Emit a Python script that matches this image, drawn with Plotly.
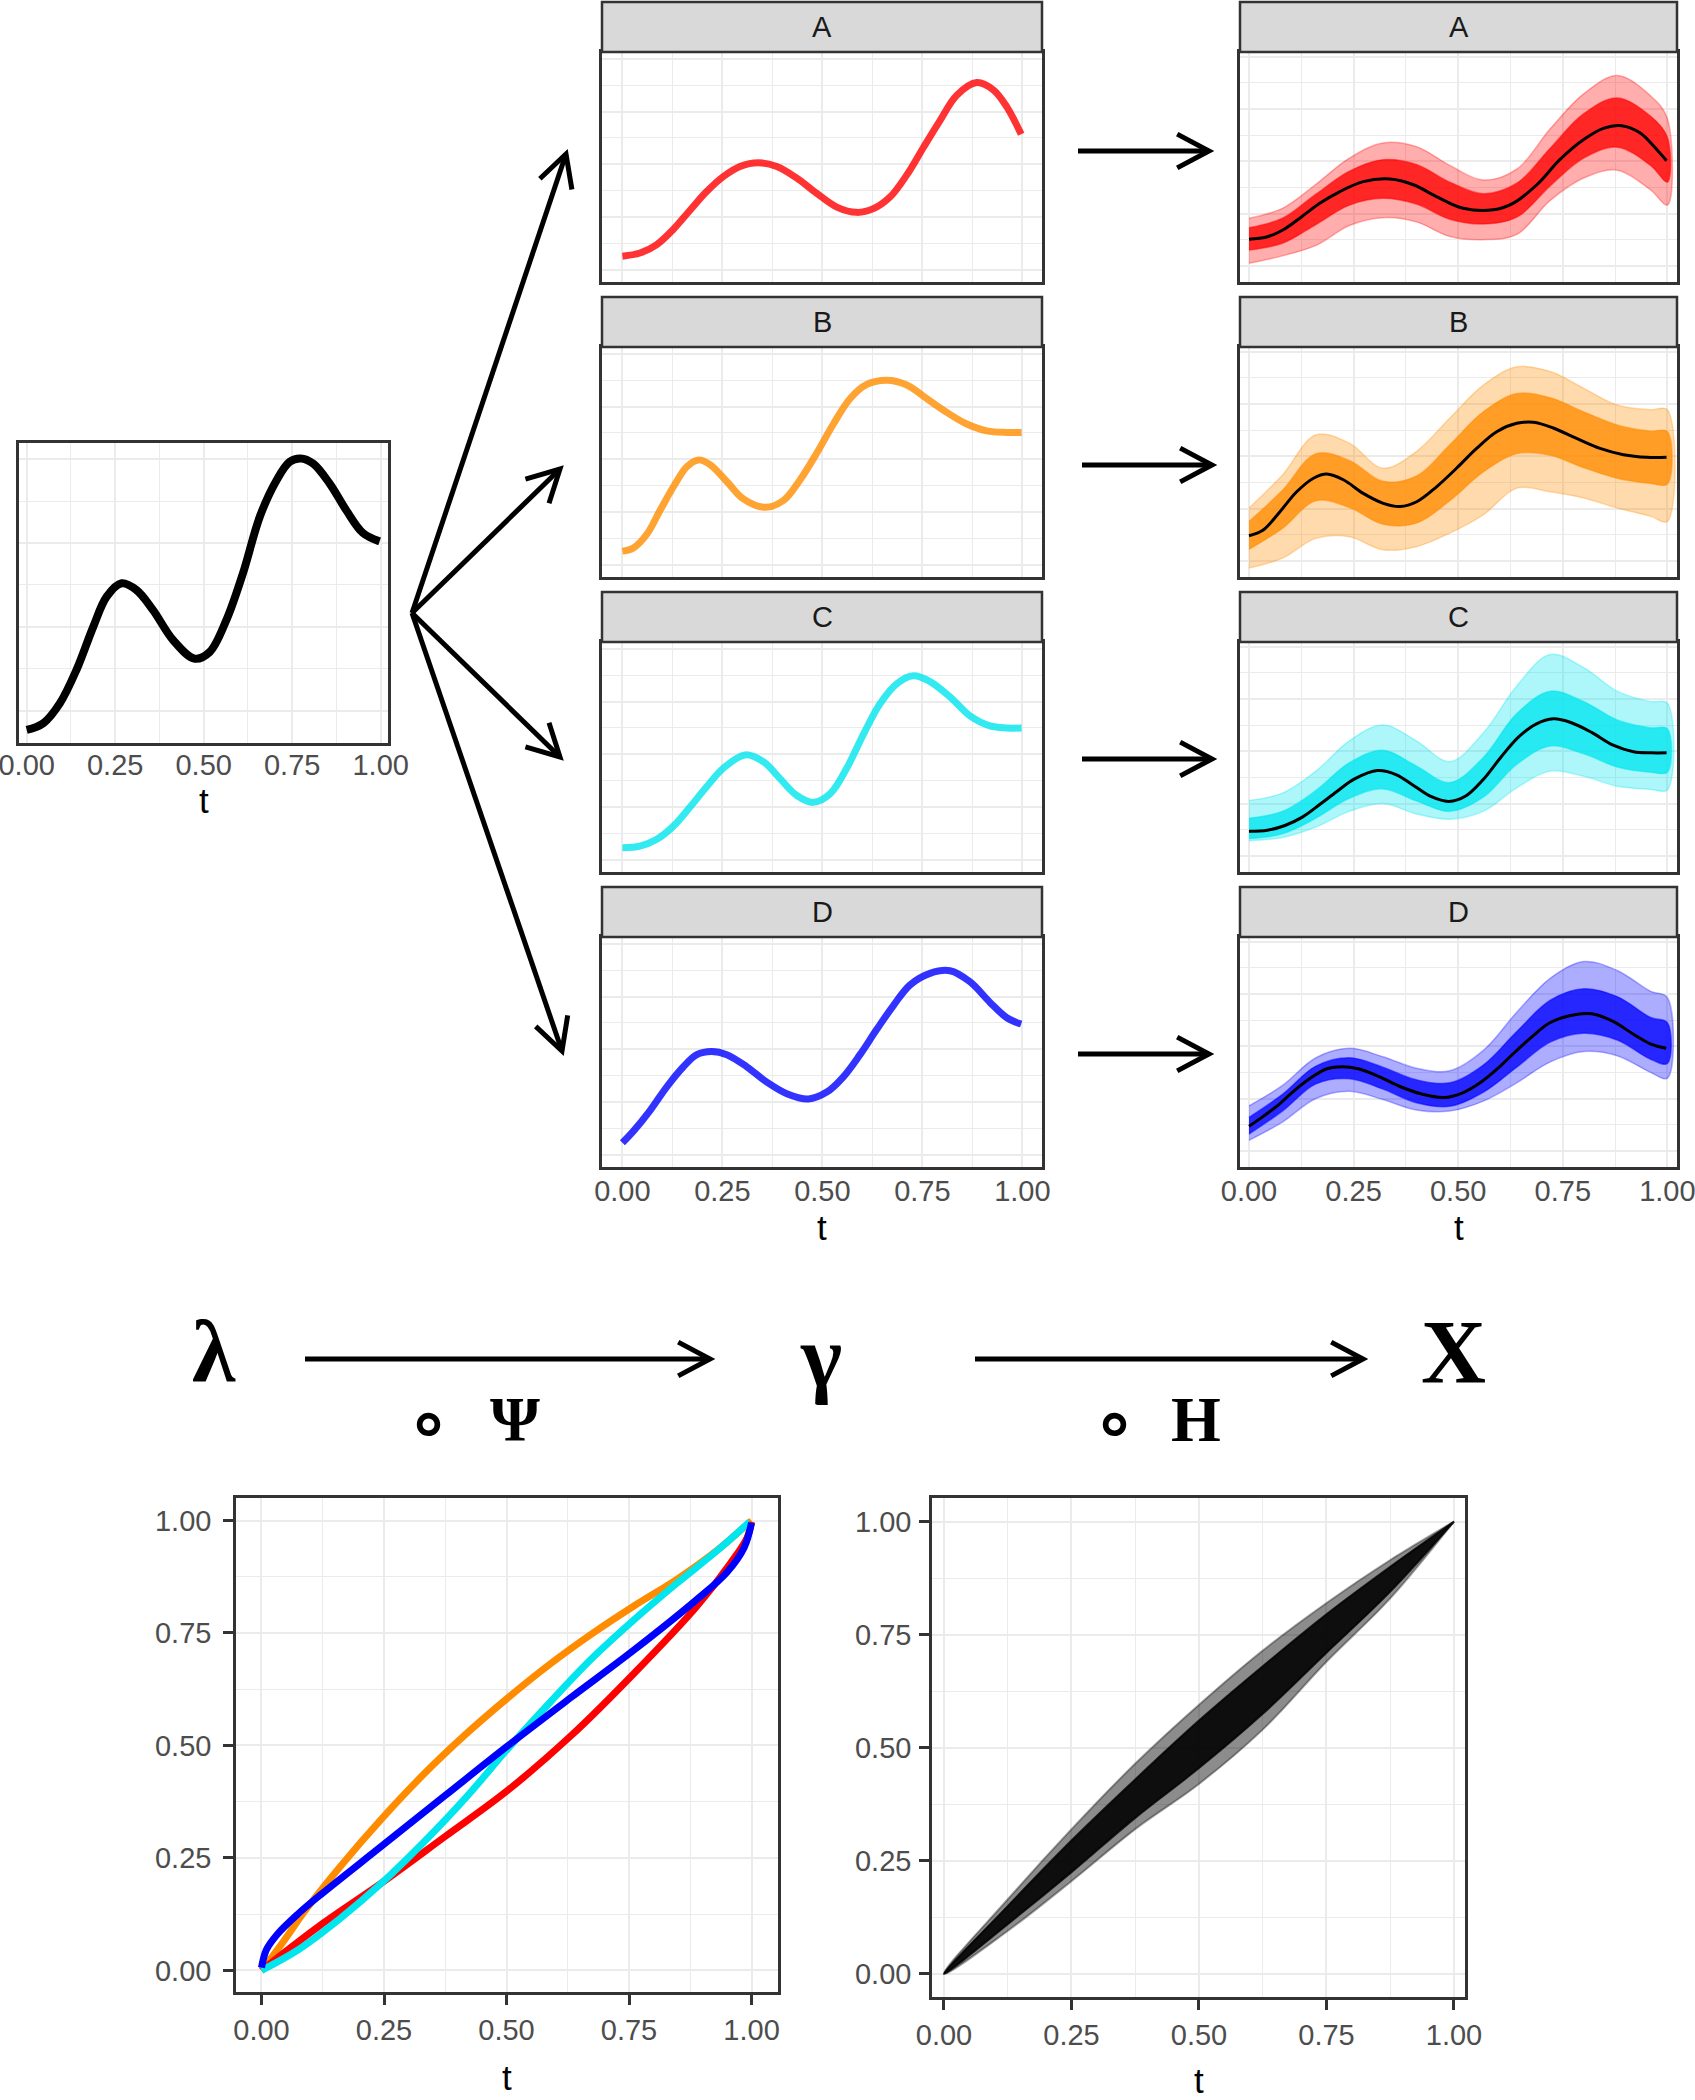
import math
import plotly.graph_objects as go

W, H = 1695, 2100

# ---------------- data ----------------
template_t = [0, .047, .094, .141, .188, .226, .268, .310, .357, .414, .475, .517, .564, .611, .659, .706, .743, .774, .809, .856, .903, .950, .997]
template_y = [-.23, -.15, .09, .49, 1.00, 1.36, 1.52, 1.44, 1.20, .84, .62, .70, 1.08, 1.64, 2.32, 2.75, 2.97, 3.01, 2.95, 2.71, 2.39, 2.12, 2.02]

warp_t_A = [0, .044, .086, .1275, .169, .21, .2525, .294, .34, .386, .436, .486, .536, .586, .6275, .669, .711, .7525, .794, .836, .886, .9275, .961, .997]
warp_y_A = [.26, .32, .48, .77, 1.13, 1.48, 1.77, 1.96, 2.03, 1.96, 1.74, 1.45, 1.19, 1.09, 1.16, 1.38, 1.80, 2.32, 2.83, 3.31, 3.55, 3.41, 3.09, 2.57]
warp_t_B = [0, .0275, .061, .094, .1275, .161, .19, .219, .261, .3025, .357, .4025, .444, .486, .5275, .569, .611, .661, .711, .761, .811, .861, .911, .961, .998]
warp_y_B = [.26, .32, .58, 1.03, 1.48, 1.86, 1.99, 1.90, 1.58, 1.25, 1.09, 1.22, 1.61, 2.12, 2.67, 3.15, 3.42, 3.50, 3.41, 3.15, 2.89, 2.67, 2.54, 2.51, 2.51]
warp_t_C = [0, .044, .086, .1275, .169, .21, .2525, .307, .3525, .394, .436, .4775, .519, .561, .6025, .644, .686, .7275, .769, .819, .869, .919, .961, .998]
warp_y_C = [.23, .26, .39, .64, 1.00, 1.38, 1.74, 1.99, 1.86, 1.54, 1.22, 1.09, 1.25, 1.74, 2.38, 2.96, 3.34, 3.49, 3.38, 3.09, 2.73, 2.54, 2.50, 2.50]
warp_t_D = [0, .0275, .069, .111, .1525, .186, .223, .261, .311, .361, .411, .465, .511, .5525, .594, .636, .6775, .719, .769, .819, .869, .919, .961, .997]
warp_y_D = [.23, .45, .84, 1.29, 1.67, 1.90, 1.96, 1.90, 1.67, 1.38, 1.16, 1.06, 1.19, 1.48, 1.90, 2.38, 2.83, 3.22, 3.44, 3.49, 3.28, 2.89, 2.60, 2.48]

mean_t_A = [0, .042, .082, .126, .17, .2175, .273, .337, .393, .449, .512, .584, .632, .688, .743, .799, .847, .891, .935, .975, .998]
mean_A = [.51, .55, .69, .94, 1.20, 1.42, 1.61, 1.66, 1.55, 1.32, 1.10, 1.07, 1.20, 1.55, 2.03, 2.41, 2.63, 2.68, 2.54, 2.22, 2.01]
mean_t_B = [0, .034, .074, .114, .154, .186, .2255, .273, .321, .361, .401, .449, .496, .544, .592, .64, .68, .727, .783, .839, .895, .951, .998]
mean_B = [.48, .59, .94, 1.32, 1.58, 1.66, 1.55, 1.29, 1.10, 1.04, 1.13, 1.42, 1.77, 2.15, 2.47, 2.63, 2.65, 2.54, 2.34, 2.15, 2.03, 1.98, 1.98]
mean_t_C = [0, .044, .086, .1275, .169, .21, .2525, .307, .3525, .394, .436, .4775, .519, .561, .6025, .644, .686, .7275, .769, .819, .869, .919, .961, .998]
mean_C = [.47, .49, .58, .74, .98, 1.23, 1.47, 1.63, 1.55, 1.34, 1.13, 1.04, 1.15, 1.47, 1.89, 2.27, 2.52, 2.62, 2.55, 2.36, 2.12, 1.99, 1.97, 1.97]
mean_t_D = [0, .0275, .069, .111, .1525, .186, .223, .261, .311, .361, .411, .465, .511, .5525, .594, .636, .6775, .719, .769, .819, .869, .919, .961, .997]
mean_D = [.47, .62, .87, 1.17, 1.42, 1.57, 1.61, 1.57, 1.42, 1.23, 1.09, 1.02, 1.11, 1.30, 1.57, 1.89, 2.19, 2.45, 2.59, 2.62, 2.48, 2.23, 2.04, 1.96]

env_t = [0, .08, .16, .24, .32, .40, .48, .56, .64, .72, .80, .88, .96, 1.0]
outer_hi_A = [.91, 1.10, 1.56, 2.06, 2.35, 2.28, 1.92, 1.64, 1.85, 2.62, 3.29, 3.64, 3.25, 2.82]
outer_lo_A = [.05, .19, .39, .77, .92, .84, .56, .50, .60, 1.25, 1.68, 1.83, 1.45, 1.16]
inner_hi_A = [.73, .91, 1.37, 1.81, 2.03, 1.94, 1.60, 1.38, 1.58, 2.25, 2.91, 3.21, 2.86, 2.46]
inner_lo_A = [.30, .43, .79, 1.16, 1.29, 1.18, .89, .80, .93, 1.53, 2.06, 2.27, 1.92, 1.60]

outer_hi_B = [1.01, 1.64, 2.41, 2.25, 1.77, 2.09, 2.73, 3.36, 3.71, 3.62, 3.30, 2.98, 2.89, 2.89]
outer_lo_B = [-.14, .05, .43, .46, .21, .27, .53, .88, 1.39, 1.32, 1.20, 1.01, .85, .75]
inner_hi_B = [.75, 1.35, 2.05, 1.92, 1.52, 1.62, 2.22, 2.85, 3.20, 3.12, 2.85, 2.60, 2.48, 2.47]
inner_lo_B = [.22, .62, 1.15, 1.02, .70, .72, 1.15, 1.70, 2.05, 2.02, 1.78, 1.58, 1.48, 1.47]

outer_hi_C = [1.06, 1.20, 1.62, 2.20, 2.50, 2.20, 1.80, 2.35, 3.25, 3.85, 3.60, 3.15, 2.95, 2.92]
outer_lo_C = [.29, .35, .55, .85, 1.00, .80, .70, .85, 1.30, 1.62, 1.52, 1.33, 1.27, 1.26]
inner_hi_C = [.72, .85, 1.25, 1.78, 2.02, 1.72, 1.40, 1.88, 2.72, 3.15, 2.95, 2.60, 2.45, 2.43]
inner_lo_C = [.33, .42, .72, 1.10, 1.28, 1.05, .85, 1.12, 1.75, 2.10, 1.95, 1.70, 1.60, 1.60]

outer_hi_D = [.86, 1.25, 1.78, 1.96, 1.80, 1.58, 1.53, 1.92, 2.65, 3.30, 3.62, 3.45, 3.05, 2.93]
outer_lo_D = [.20, .55, 1.00, 1.14, .98, .78, .76, .95, 1.30, 1.70, 1.90, 1.82, 1.50, 1.39]
inner_hi_D = [.64, 1.08, 1.62, 1.78, 1.60, 1.36, 1.30, 1.64, 2.28, 2.88, 3.10, 2.95, 2.55, 2.45]
inner_lo_D = [.32, .76, 1.28, 1.38, 1.18, .92, .85, 1.12, 1.60, 2.08, 2.25, 2.12, 1.75, 1.67]

gam_t_orange = [0, .04, .092, .16, .246, .332, .417, .503, .589, .674, .76, .846, .931, 1.0]
gam_orange = [0, .057, .137, .23, .338, .437, .525, .606, .681, .748, .81, .868, .935, 1.0]
gam_t_cyan = [0, .075, .16, .246, .332, .417, .503, .589, .674, .76, .846, .931, .996]
gam_cyan = [0, .046, .115, .195, .286, .384, .493, .596, .693, .779, .859, .934, .997]
gam_t_blue = [0, .01, .032, .075, .117, .246, .374, .5, .632, .76, .889, .95, .985, 1.0]
gam_blue = [.006, .046, .08, .126, .165, .277, .388, .497, .607, .712, .825, .885, .94, .995]
gam_t_red = [0, .117, .246, .374, .5, .632, .76, .889, .957, .991, 1.0]
gam_red = [0, .098, .195, .297, .398, .522, .66, .81, .905, .962, .997]

lens_t = [0, .125, .25, .375, .5, .625, .75, .875, 1]
lens_outer_hi = [0, .165, .32, .465, .595, .715, .82, .915, 1]
lens_outer_lo = [0, .095, .205, .32, .42, .54, .69, .83, 1]
lens_inner_hi = [0, .15, .295, .43, .56, .68, .795, .9, 1]
lens_inner_lo = [0, .11, .225, .345, .455, .575, .71, .845, 1]

facet_labels = ["A", "B", "C", "D"]
t_ticks = [0, .25, .5, .75, 1]
t_tick_text = ["0.00", "0.25", "0.50", "0.75", "1.00"]

# ---------------- style ----------------
RED, ORANGE, CYAN, BLUE = "#FF0000", "#FF8C00", "#00E5EE", "#0000FF"
RGB = {"A": (255, 0, 0), "B": (255, 140, 0), "C": (0, 229, 238), "D": (0, 0, 255)}
FONT = "Liberation Sans, Arial, sans-serif"
GRID = "#EBEBEB"
FRAME = "#333333"


def rgba(c, a):
    return "rgba(%d,%d,%d,%.2f)" % (c[0], c[1], c[2], a)


def xd(p0, p1):
    return [p0 / W, p1 / W]


def yd(p0, p1):
    return [1 - p1 / H, 1 - p0 / H]


fig = go.Figure()
layout = dict(width=W, height=H, margin=dict(l=0, r=0, t=0, b=0, autoexpand=False),
              paper_bgcolor="white", plot_bgcolor="white", showlegend=False)
annotations = []
shapes = []


def axis_common(ax_range, major, minor, labels=False, ticks=False, text=None, standoff=None):
    d = dict(range=ax_range, showgrid=True, gridcolor=GRID, gridwidth=2.2,
             tickmode="array", tickvals=major, zeroline=False, automargin=False,
             showline=True, mirror=True, linecolor=FRAME, linewidth=2.5,
             minor=dict(tickmode="array", tickvals=minor, showgrid=True,
                        gridcolor=GRID, gridwidth=1.3),
             showticklabels=labels, ticklabeloverflow="allow",
             tickfont=dict(family=FONT, size=29, color="#4D4D4D"),
             fixedrange=True)
    if text is not None:
        d["ticktext"] = text
    if standoff is not None:
        d["ticklabelstandoff"] = standoff
    if ticks:
        d.update(ticks="outside", ticklen=10, tickwidth=2.5, tickcolor=FRAME)
    else:
        d.update(ticks="")
    return d


t_minor = [.125, .375, .625, .875]
v_major4 = [0, 1, 2, 3, 4]
v_minor4 = [.5, 1.5, 2.5, 3.5]

ax_id = [0]


def new_axes(xdom, ydom, xa, ya):
    ax_id[0] += 1
    n = ax_id[0]
    sx = "" if n == 1 else str(n)
    xa = dict(xa, domain=xdom, anchor="y" + sx)
    ya = dict(ya, domain=ydom, anchor="x" + sx)
    layout["xaxis" + sx] = xa
    layout["yaxis" + sx] = ya
    return "x" + sx, "y" + sx


def title_t(cx, cy):
    annotations.append(dict(text="t", x=cx / W, y=1 - cy / H, xref="paper", yref="paper",
                            showarrow=False, xanchor="center", yanchor="middle",
                            font=dict(family=FONT, size=35, color="black")))


# ---- left template panel ----
xa, ya = new_axes(xd(19, 388), yd(443, 743),
                  axis_common([-.0217, 1.0207], t_ticks, t_minor, labels=True, text=t_tick_text, standoff=-6),
                  axis_common([-.386, 3.194], [0, 1, 2, 3], [.5, 1.5, 2.5]))
fig.add_trace(go.Scatter(x=template_t, y=template_y, xaxis=xa, yaxis=ya, mode="lines",
                         line=dict(color="black", width=8, shape="spline", smoothing=1.0)))
title_t(203.5, 800)

# ---- middle + right facet panels ----
row_origin = [2, 297, 592, 887]
warp_t = [warp_t_A, warp_t_B, warp_t_C, warp_t_D]
warp_y = [warp_y_A, warp_y_B, warp_y_C, warp_y_D]
mean_t = [mean_t_A, mean_t_B, mean_t_C, mean_t_D]
means = [mean_A, mean_B, mean_C, mean_D]
o_hi = [outer_hi_A, outer_hi_B, outer_hi_C, outer_hi_D]
o_lo = [outer_lo_A, outer_lo_B, outer_lo_C, outer_lo_D]
i_hi = [inner_hi_A, inner_hi_B, inner_hi_C, inner_hi_D]
i_lo = [inner_lo_A, inner_lo_B, inner_lo_C, inner_lo_D]

for col, (px0, px1, xr, yr) in enumerate([(602, 1042, [-.051, 1.049], [-.23, 4.13]),
                                          (1240, 1677, [-.0215, 1.023], [-.31, 4.09])]):
    for r, lab in enumerate(facet_labels):
        o = row_origin[r]
        last = r == 3
        xa, ya = new_axes(xd(px0, px1), yd(o + 50, o + 280),
                          axis_common(xr, t_ticks, t_minor, labels=last, text=t_tick_text, standoff=-4),
                          axis_common(yr, v_major4, v_minor4))
        c = RGB[lab]
        if col == 0:
            fig.add_trace(go.Scatter(x=warp_t[r], y=warp_y[r], xaxis=xa, yaxis=ya, mode="lines",
                                     line=dict(color=rgba(c, .8), width=7, shape="spline", smoothing=1.0)))
        else:
            fig.add_trace(go.Scatter(x=env_t + env_t[::-1], y=o_hi[r] + o_lo[r][::-1],
                                     xaxis=xa, yaxis=ya, mode="lines", fill="toself",
                                     fillcolor=rgba(c, .32), line=dict(color=rgba(c, .3), width=1.5, shape="spline")))
            fig.add_trace(go.Scatter(x=env_t + env_t[::-1], y=i_hi[r] + i_lo[r][::-1],
                                     xaxis=xa, yaxis=ya, mode="lines", fill="toself",
                                     fillcolor=rgba(c, .78), line=dict(color=rgba(c, .5), width=1.5, shape="spline")))
            fig.add_trace(go.Scatter(x=mean_t[r], y=means[r], xaxis=xa, yaxis=ya, mode="lines",
                                     line=dict(color="black", width=3, shape="spline", smoothing=1.0)))
        # strip
        shapes.append(dict(type="rect", xref="paper", yref="paper",
                           x0=px0 / W, x1=px1 / W, y0=1 - (o + 50) / H, y1=1 - o / H,
                           fillcolor="#D9D9D9", line=dict(color=FRAME, width=2.5)))
        annotations.append(dict(text=lab, x=(px0 + px1) / 2 / W, y=1 - (o + 25) / H,
                                xref="paper", yref="paper", showarrow=False,
                                xanchor="center", yanchor="middle",
                                font=dict(family=FONT, size=29, color="#1A1A1A")))
    title_t((px0 + px1) / 2, 1227)

# ---- bottom-left warping functions ----
xa, ya = new_axes(xd(236, 778), yd(1498, 1992),
                  axis_common([-.052, 1.054], t_ticks, t_minor, labels=True, ticks=True, text=t_tick_text),
                  axis_common([-.048, 1.05], t_ticks, t_minor, labels=True, ticks=True, text=t_tick_text, standoff=6))
for tt, vv, colr in [(gam_t_orange, gam_orange, ORANGE), (gam_t_red, gam_red, RED),
                     (gam_t_cyan, gam_cyan, CYAN), (gam_t_blue, gam_blue, BLUE)]:
    fig.add_trace(go.Scatter(x=tt, y=vv, xaxis=xa, yaxis=ya, mode="lines",
                             line=dict(color=colr, width=7, shape="spline", smoothing=1.0)))
title_t(507, 2077)

# ---- bottom-right bundle of warping functions ----
xa, ya = new_axes(xd(932, 1465), yd(1498, 1997),
                  axis_common([-.0235, 1.0216], t_ticks, t_minor, labels=True, ticks=True, text=t_tick_text),
                  axis_common([-.051, 1.052], t_ticks, t_minor, labels=True, ticks=True, text=t_tick_text, standoff=2))
fig.add_trace(go.Scatter(x=lens_t + lens_t[::-1], y=lens_outer_hi + lens_outer_lo[::-1],
                         xaxis=xa, yaxis=ya, mode="lines", fill="toself",
                         fillcolor="rgba(0,0,0,0.45)", line=dict(color="rgba(0,0,0,0.35)", width=2, shape="spline")))
fig.add_trace(go.Scatter(x=lens_t + lens_t[::-1], y=lens_inner_hi + lens_inner_lo[::-1],
                         xaxis=xa, yaxis=ya, mode="lines", fill="toself",
                         fillcolor="rgba(0,0,0,0.9)", line=dict(color="rgba(0,0,0,0.8)", width=2, shape="spline")))
title_t(1198.5, 2080)


# ---------------- arrows ----------------
def arrow(x0, y0, x1, y1, head=36, spread=28, width=5):
    ang = math.atan2(y1 - y0, x1 - x0)
    s = math.radians(spread)
    a1 = (x1 + head * math.cos(ang + math.pi - s), y1 + head * math.sin(ang + math.pi - s))
    a2 = (x1 + head * math.cos(ang + math.pi + s), y1 + head * math.sin(ang + math.pi + s))

    def P(x, y):
        return "%.5f %.5f" % (x / W, 1 - y / H)
    shapes.append(dict(type="path", xref="paper", yref="paper",
                       path="M %s L %s" % (P(x0, y0), P(x1, y1)),
                       line=dict(color="black", width=width)))
    shapes.append(dict(type="path", xref="paper", yref="paper",
                       path="M %s L %s L %s" % (P(*a1), P(x1, y1), P(*a2)),
                       line=dict(color="black", width=width)))


origin = (412, 613)
for tip in [(566, 154), (560, 469), (560, 757), (562, 1051)]:
    arrow(origin[0], origin[1], tip[0], tip[1])
for (xa0, xa1, yy) in [(1078, 1209, 151), (1082, 1212, 465), (1082, 1212, 759), (1078, 1209, 1054)]:
    arrow(xa0, yy, xa1, yy)
arrow(305, 1359, 710, 1359)
arrow(975, 1359, 1363, 1359)

# ---------------- symbols ----------------
SERIF = "Liberation Serif, DejaVu Serif, serif"
for txt, cx, cy, size in [("λ", 214, 1352, 88), ("γ", 821, 1356, 88), ("X", 1453, 1352, 90),
                          ("Ψ", 515, 1419, 64), ("H", 1196, 1419, 64)]:
    annotations.append(dict(text="<b>%s</b>" % txt, x=cx / W, y=1 - cy / H, xref="paper", yref="paper",
                            showarrow=False, xanchor="center", yanchor="middle",
                            font=dict(family=SERIF, size=size, color="black")))
for cx in [428, 1114]:
    annotations.append(dict(text="<b>∘</b>", x=cx / W, y=1 - 1422 / H, xref="paper", yref="paper",
                            showarrow=False, xanchor="center", yanchor="middle",
                            font=dict(family="DejaVu Sans, sans-serif", size=72, color="black")))

layout["annotations"] = annotations
layout["shapes"] = shapes
fig.update_layout(**layout)
fig.write_html("out.html", config={"displayModeBar": False},
               post_script="document.body.style.margin='0px';document.body.style.padding='0px';")
